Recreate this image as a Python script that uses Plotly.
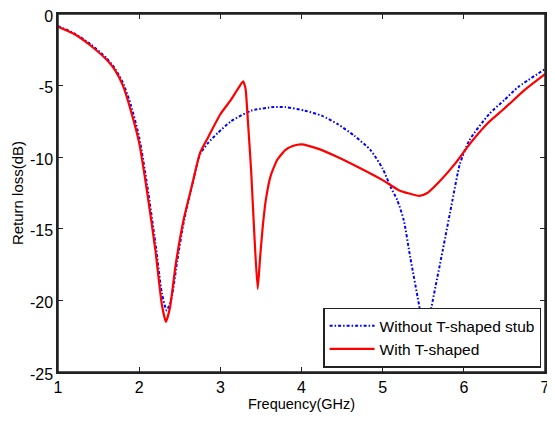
import plotly.graph_objects as go

# Without T-shaped stub (blue, dash-dot)
freq_without = [1.0, 1.2, 1.4, 1.6, 1.7, 1.8, 1.9, 2.0, 2.1, 2.2, 2.28, 2.34, 2.4, 2.47, 2.55, 2.65,
                2.75, 2.85, 2.97, 3.13, 3.38, 3.66, 3.8, 4.04, 4.25, 4.45, 4.65, 4.85, 5.0, 5.1,
                5.18, 5.26, 5.34, 5.46, 5.52, 5.6, 5.74, 5.86, 5.95, 6.07, 6.31, 6.5, 6.67, 7.0]
rl_without = [-0.85, -1.35, -2.1, -3.1, -3.8, -4.8, -6.4, -8.6, -12.0, -16.0, -19.5, -20.7, -19.8, -17.2, -14.5, -12.0,
              -9.8, -9.0, -8.3, -7.5, -6.75, -6.5, -6.5, -6.75, -7.1, -7.7, -8.5, -9.5, -10.8, -12.1,
              -13.0, -14.4, -17.0, -20.7, -23.0, -20.5, -16.5, -13.0, -10.5, -8.8, -7.0, -6.0, -5.1, -3.85]

# With T-shaped (red, solid)
freq_with = [1.0, 1.2, 1.4, 1.6, 1.7, 1.8, 1.9, 2.0, 2.1, 2.2, 2.28, 2.33, 2.38, 2.45, 2.55, 2.65,
             2.75, 2.85, 3.0, 3.13, 3.22, 3.28, 3.31, 3.34, 3.38, 3.42, 3.46, 3.49, 3.52, 3.56, 3.62,
             3.7, 3.8, 3.9, 4.0, 4.2, 4.45, 4.7, 5.0, 5.2, 5.45, 5.55, 5.7, 5.9, 6.07, 6.3, 6.5, 6.75, 7.0]
rl_with = [-0.9, -1.4, -2.2, -3.2, -3.9, -5.0, -6.8, -9.0, -12.5, -16.5, -20.3, -21.5, -20.5, -17.5, -14.3, -12.0,
           -9.7, -8.6, -7.0, -6.0, -5.2, -4.7, -5.2, -7.5, -11.0, -15.5, -19.2, -17.0, -15.0, -13.0, -11.3,
           -10.2, -9.5, -9.2, -9.1, -9.4, -10.0, -10.7, -11.6, -12.3, -12.7, -12.5, -11.7, -10.4, -9.1, -7.6, -6.6, -5.3, -4.2]

x_ticks = [1, 2, 3, 4, 5, 6, 7]
x_tick_labels = ["1", "2", "3", "4", "5", "6", "7"]
y_ticks = [0, -5, -10, -15, -20, -25]
y_tick_labels = ["0", "-5", "-10", "-15", "-20", "-25"]

font = "Liberation Sans, Arial, sans-serif"
frame_color = "#222222"

fig = go.Figure()
fig.add_trace(go.Scatter(x=freq_without, y=rl_without, mode="lines",
                         name="Without T-shaped stub", legendgroup="a",
                         line=dict(color="#0000ff", width=2, dash="3px,2px,1.5px,2px",
                                   shape="spline", smoothing=0.6)))
fig.add_trace(go.Scatter(x=freq_with, y=rl_with, mode="lines",
                         name="With T-shaped", legendgroup="b",
                         line=dict(color="#ff0000", width=2.2, shape="spline", smoothing=0.5)))

axis_common = dict(showline=True, linecolor=frame_color, linewidth=1.5, mirror="allticks",
                   ticks="inside", ticklen=5, tickcolor=frame_color, tickwidth=1.2,
                   showgrid=False, zeroline=False,
                   ticklabeloverflow="allow", automargin=False,
                   tickfont=dict(family=font, size=16, color="black"))

# overlay axes used only to draw the top and right frame with inside ticks
frame_axis = dict(showline=True, linecolor=frame_color, linewidth=1.5,
                  ticks="inside", ticklen=5, tickcolor=frame_color, tickwidth=1.2,
                  showticklabels=False, showgrid=False, zeroline=False, automargin=False)

fig.update_layout(
    width=539, height=406,
    margin=dict(l=50, r=2, t=6, b=42),
    paper_bgcolor="white", plot_bgcolor="white",
    font=dict(family=font, color="black"),
    xaxis=dict(range=[1, 7], tickvals=x_ticks, ticktext=x_tick_labels,
               title=dict(text="Frequency(GHz)", font=dict(family=font, size=14.5), standoff=1),
               **axis_common),
    yaxis=dict(range=[-25, 0], tickvals=y_ticks, ticktext=y_tick_labels, ticklabelshift=2,
               title=dict(text="Return loss(dB)", font=dict(family=font, size=15), standoff=3),
               **axis_common),
    xaxis2=dict(overlaying="x", side="top", matches="x", tickvals=x_ticks, anchor="y", **frame_axis),
    yaxis2=dict(overlaying="y", side="right", matches="y", tickvals=y_ticks, anchor="x", **frame_axis),
    legend=dict(x=0.992, y=0.012, xanchor="right", yanchor="bottom",
                bgcolor="white", bordercolor=frame_color, borderwidth=1.5,
                font=dict(family=font, size=15.5), tracegroupgap=7, itemwidth=45,
                traceorder="normal"),
    showlegend=True,
)
fig.add_shape(type="rect", xref="paper", yref="paper", x0=0, y0=0, x1=1, y1=1,
              line=dict(color=frame_color, width=1.5), layer="above")

fig.write_html("out.html")
